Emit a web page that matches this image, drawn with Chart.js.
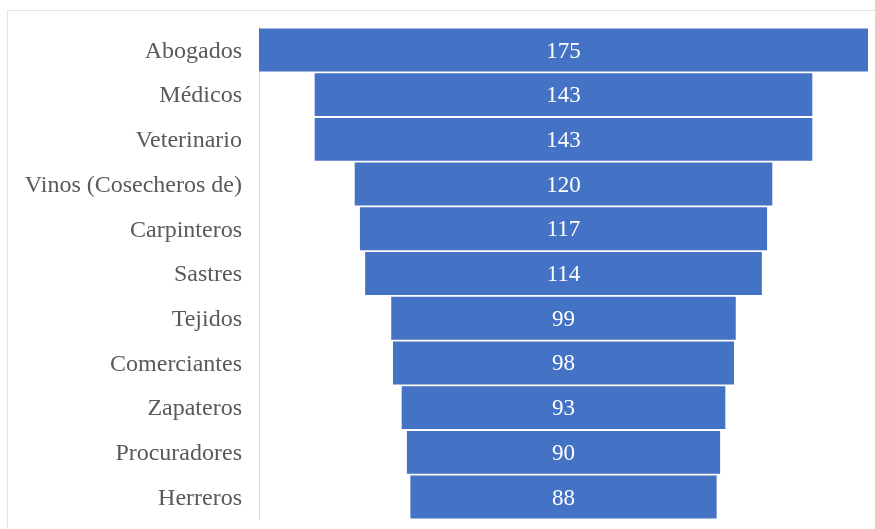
<!DOCTYPE html>
<html>
<head>
<meta charset="utf-8">
<script src="https://cdn.jsdelivr.net/npm/chart.js@4/dist/chart.umd.min.js"></script>
<style>
  html, body { margin: 0; padding: 0; background: #fff; }
  #wrap { width: 875px; height: 529px; position: relative; }
</style>
</head>
<body>
<div id="wrap"><canvas id="funnel"></canvas></div>
<script>
// — datos —
const categorias = ['Abogados', 'Médicos', 'Veterinario', 'Vinos (Cosecheros de)', 'Carpinteros',
                    'Sastres', 'Tejidos', 'Comerciantes', 'Zapateros', 'Procuradores', 'Herreros'];
const valores    = [175, 143, 143, 120, 117, 114, 99, 98, 93, 90, 88];

const fuente = '"Liberation Serif", "Times New Roman", serif';

// marco gris claro alrededor del gráfico
const marco = {
  id: 'marco',
  beforeDraw(chart) {
    const c = chart.ctx;
    c.save();
    c.strokeStyle = '#e3e3e3';
    c.lineWidth = 1;
    c.strokeRect(7.5, 10.5, chart.width + 20, chart.height + 20);
    c.restore();
  }
};

// nombres de categoría (a la izquierda del eje) y valores centrados en cada barra
const etiquetas = {
  id: 'etiquetas',
  afterDatasetsDraw(chart) {
    const c = chart.ctx;
    const yScale = chart.scales.y;
    const meta = chart.getDatasetMeta(0);
    c.save();
    c.textBaseline = 'middle';

    c.fillStyle = '#595959';
    c.font = '24px ' + fuente;
    c.textAlign = 'right';
    categorias.forEach((cat, i) => {
      c.fillText(cat, yScale.right - 17, yScale.getPixelForValue(i) + 1.5);
    });

    c.fillStyle = '#ffffff';
    c.font = '23px ' + fuente;
    c.textAlign = 'center';
    meta.data.forEach((bar, i) => {
      const p = bar.getProps(['x', 'base', 'y'], true);
      c.fillText(String(valores[i]), (p.x + p.base) / 2, p.y + 1.5);
    });
    c.restore();
  }
};

const ctx = document.getElementById('funnel').getContext('2d');
new Chart(ctx, {
  type: 'bar',
  data: {
    labels: categorias,
    datasets: [{
      data: valores.map(v => [-v / 2, v / 2]),
      backgroundColor: '#4472C4',
      borderWidth: 0,
      barPercentage: 0.96,
      categoryPercentage: 1
    }]
  },
  options: {
    indexAxis: 'y',
    responsive: true,
    maintainAspectRatio: false,
    animation: false,
    layout: { padding: { left: 0, right: 7, top: 27.6, bottom: 9.6 } },
    plugins: {
      legend: { display: false },
      tooltip: { enabled: false }
    },
    scales: {
      x: { display: false, min: -87.5, max: 87.5 },
      y: {
        grid: { display: false, drawTicks: false },
        border: { display: true, color: '#d9d9d9', width: 1 },
        ticks: { display: false },
        afterFit(scale) {
          scale.width = 259;
          scale.paddingTop = 0;
          scale.paddingBottom = 0;
        }
      }
    }
  },
  plugins: [marco, etiquetas]
});
</script>
</body>
</html>
